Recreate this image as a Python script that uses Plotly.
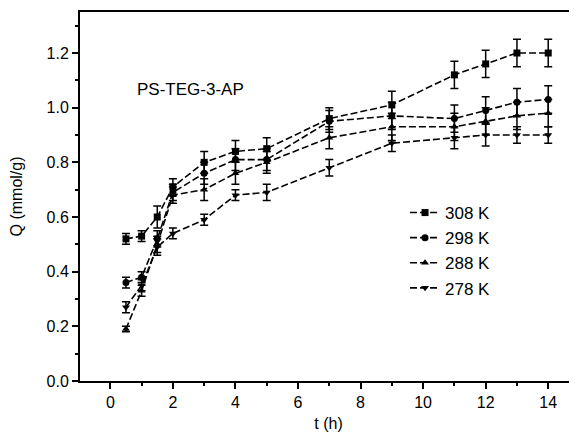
import plotly.graph_objects as go

t_hours = [0.5, 1, 1.5, 2, 3, 4, 5, 7, 9, 11, 12, 13, 14]

q_308 = [0.52, 0.53, 0.60, 0.71, 0.80, 0.84, 0.85, 0.96, 1.01, 1.12, 1.16, 1.20, 1.20]
q_298 = [0.36, 0.38, 0.52, 0.69, 0.76, 0.81, 0.81, 0.95, 0.97, 0.96, 0.99, 1.02, 1.03]
q_288 = [0.19, 0.33, 0.50, 0.68, 0.70, 0.76, 0.80, 0.89, 0.93, 0.93, 0.95, 0.97, 0.98]
q_278 = [0.27, 0.35, 0.49, 0.54, 0.59, 0.68, 0.69, 0.78, 0.87, 0.89, 0.90, 0.90, 0.90]

err_308 = [0.02, 0.02, 0.04, 0.03, 0.04, 0.04, 0.04, 0.04, 0.05, 0.05, 0.05, 0.05, 0.05]
err_298 = [0.02, 0.02, 0.03, 0.03, 0.04, 0.04, 0.04, 0.04, 0.05, 0.05, 0.05, 0.05, 0.05]
err_288 = [0.01, 0.02, 0.03, 0.03, 0.04, 0.04, 0.04, 0.04, 0.05, 0.05, 0.05, 0.05, 0.05]
err_278 = [0.02, 0.02, 0.03, 0.02, 0.02, 0.02, 0.03, 0.03, 0.03, 0.04, 0.04, 0.03, 0.03]

series_names = ["308 K", "298 K", "288 K", "278 K"]
series_values = [q_308, q_298, q_288, q_278]
series_errors = [err_308, err_298, err_288, err_278]
series_symbols = ["square", "circle", "triangle-up", "triangle-down"]

fig = go.Figure()
for name, vals, errs, sym in zip(series_names, series_values, series_errors, series_symbols):
    fig.add_trace(go.Scatter(
        x=t_hours, y=vals, name=name, mode="lines+markers",
        line=dict(color="black", width=1.6, dash="7px,3px"),
        marker=dict(symbol=sym, size=7, color="black"),
        error_y=dict(type="data", array=errs, visible=True, color="black",
                     thickness=1.5, width=4),
    ))

fig.add_annotation(x=0.79, y=1.065, xref="x", yref="y", text="PS-TEG-3-AP",
                   showarrow=False, xanchor="left",
                   font=dict(family="Liberation Sans, Arial", size=17, color="black"))

font = dict(family="Liberation Sans, Arial", size=16, color="black")
legend_font = dict(family="Liberation Sans, Arial", size=17, color="black")
fig.update_layout(
    width=577, height=435,
    margin=dict(l=72, r=8, t=4, b=62, autoexpand=False),
    paper_bgcolor="white", plot_bgcolor="white",
    font=font,
    showlegend=True,
    legend=dict(x=0.654, y=0.504, xanchor="left", yanchor="top",
                bgcolor="rgba(0,0,0,0)", font=legend_font, itemwidth=30,
                tracegroupgap=0),
    xaxis=dict(
        range=[-0.97, 14.92], tickvals=[0, 2, 4, 6, 8, 10, 12, 14],
        ticks="outside", ticklen=6, tickwidth=2, tickcolor="black",
        showline=True, linewidth=2, linecolor="black", mirror=True,
        showgrid=False, zeroline=False, automargin=False,
        minor=dict(tickvals=[-1, 1, 3, 5, 7, 9, 11, 13], ticks="outside",
                   ticklen=3, tickwidth=2, tickcolor="black"),
        title=dict(text="t (h)", font=font, standoff=8),
    ),
    yaxis=dict(
        range=[0, 1.35], tickvals=[0, 0.2, 0.4, 0.6, 0.8, 1.0, 1.2],
        tickformat=".1f",
        ticks="outside", ticklen=6, tickwidth=2, tickcolor="black",
        showline=True, linewidth=2, linecolor="black",
        showgrid=False, zeroline=False, automargin=False,
        minor=dict(tickvals=[0.1, 0.3, 0.5, 0.7, 0.9, 1.1, 1.3], ticks="outside",
                   ticklen=3, tickwidth=2, tickcolor="black"),
        title=dict(text="Q (mmol/g)", font=font, standoff=28),
    ),
)

fig.write_html("out.html")
